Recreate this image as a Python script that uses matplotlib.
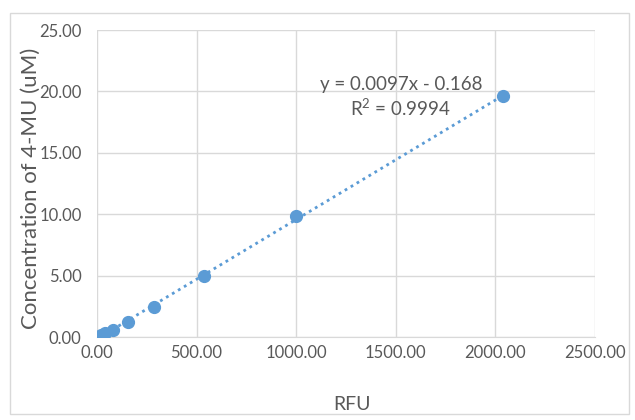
import numpy as np
import matplotlib
matplotlib.use("Agg")
import matplotlib.pyplot as plt
from matplotlib.patches import Rectangle

# standard curve: RFU vs 4-MU concentration
rfu = [18, 42, 80, 155, 285, 535, 1000, 2040]
conc = [0.15, 0.30, 0.60, 1.25, 2.45, 4.95, 9.85, 19.6]

x_ticks = [0, 500, 1000, 1500, 2000, 2500]
y_ticks = [0, 5, 10, 15, 20, 25]

eq_text = "y = 0.0097x - 0.168"
r2_text = "R$^2$ = 0.9994"

BLUE = "#5B9BD5"
GRAY = "#595959"
GRID = "#d9d9d9"

plt.rcParams["font.family"] = ["Lato", "DejaVu Sans"]
plt.rcParams["mathtext.fontset"] = "custom"
plt.rcParams["mathtext.rm"] = "Lato"

fig = plt.figure(figsize=(6.35, 4.2), dpi=100)
fig.patches.append(Rectangle((10 / 635, 1 - 414 / 420), 619 / 635, 401 / 420,
                             transform=fig.transFigure, fill=False,
                             edgecolor=GRID, linewidth=1))

ax = fig.add_axes([97 / 635, 1 - 337 / 420, 498 / 635, 307 / 420])

# linear trendline
k, b = np.polyfit(rfu, conc, 1)
xs = np.array([min(rfu), max(rfu)])
ax.plot(xs, k * xs + b, linestyle=(0, (1, 1.5)), color=BLUE, linewidth=2, zorder=2)
ax.plot(rfu, conc, "o", color=BLUE, markersize=8.5, zorder=3)

ax.set_xlim(0, 2500)
ax.set_ylim(0, 25)
ax.set_xticks(x_ticks)
ax.set_yticks(y_ticks)
ax.set_xticklabels([f"{v:.2f}" for v in x_ticks])
ax.set_yticklabels([f"{v:.2f}" for v in y_ticks])
ax.tick_params(length=0, labelsize=12, labelcolor=GRAY)
ax.tick_params(axis="y", pad=11)
ax.tick_params(axis="x", pad=6)
ax.grid(True, color=GRID, linewidth=1)
ax.set_axisbelow(True)
for s in ax.spines.values():
    s.set_visible(False)
ax.spines["bottom"].set_visible(True)
ax.spines["bottom"].set_color(GRID)

fig.text(352 / 635, 1 - 404 / 420, "RFU", ha="center", va="center",
         fontsize=14, color=GRAY)
fig.text(31 / 635, 1 - 188 / 420, "Concentration of 4-MU (uM)", rotation=90,
         ha="center", va="center", fontsize=16, color=GRAY)

ax.text(1525, 20.6, eq_text, ha="center", va="center", fontsize=13.5, color=GRAY)
ax.text(1525, 18.65, r2_text, ha="center", va="center", fontsize=13.5, color=GRAY)

fig.savefig("out.png", dpi=100)
